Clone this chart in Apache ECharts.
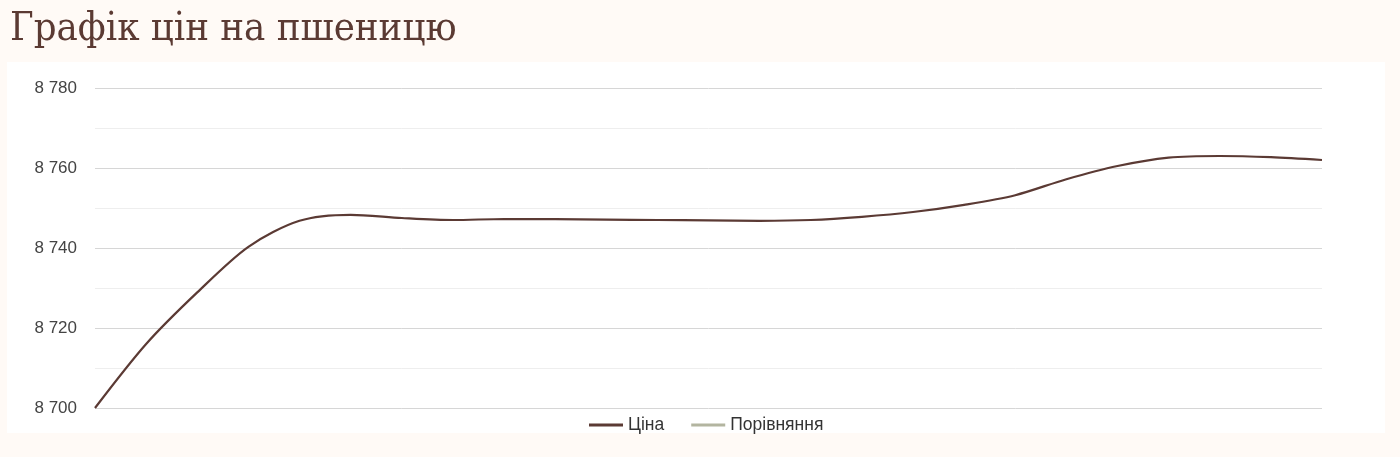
<!DOCTYPE html>
<html>
<head>
<meta charset="utf-8">
<script src="https://cdn.jsdelivr.net/npm/echarts@6/dist/echarts.min.js"></script>
<style>
html,body{margin:0;padding:0;background:#fffaf6;}
#c{width:1400px;height:457px;}
</style>
</head>
<body>
<div id="c"></div>
<script>
var titleText = 'Графік цін на пшеницю';
var categories = ['1','2','3','4','5','6','7','8','9','10','11','12','13','14','15','16','17','18','19','20','21','22','23','24','25'];
var priceValues = [8700, 8716.0, 8728.9, 8740.3, 8746.8, 8748.3, 8747.5, 8747.0, 8747.25, 8747.2, 8747.1, 8747.0, 8746.9, 8746.8, 8747.0, 8747.8, 8749.0, 8750.8, 8753.2, 8757.2, 8760.5, 8762.6, 8763.0, 8762.7, 8762.0];
var compareValues = [];
var seriesNames = ['Ціна', 'Порівняння'];
var yMin = 8700, yMax = 8780, yStep = 10, yLabelStep = 20;

var chart = echarts.init(document.getElementById('c'), null, {renderer:'canvas'});
chart.setOption({
  backgroundColor: '#fffaf6',
  animation: false,
  graphic: [{
    type: 'rect', left: 7, top: 62, silent: true, z: -10,
    shape: {width: 1378, height: 371},
    style: {fill: '#ffffff'}
  }],
  title: {
    text: titleText, left: 5, top: 5,
    textStyle: {fontFamily: '"DejaVu Serif Condensed", "DejaVu Serif", serif', fontSize: 39.7, fontWeight: 'normal', color: '#5b3a33'}
  },
  legend: {
    data: seriesNames, left: 584, top: 411,
    icon: 'rect', itemWidth: 34, itemHeight: 3, itemGap: 27,
    textStyle: {fontFamily: 'Liberation Sans', fontSize: 17.5, color: '#333'}
  },
  grid: {left: 95, right: 78, top: 88, bottom: 49, containLabel: false},
  xAxis: {
    type: 'category', data: categories, boundaryGap: false,
    axisLine: {show: false}, axisTick: {show: false}, axisLabel: {show: false}, splitLine: {show: false}
  },
  yAxis: {
    type: 'value', min: yMin, max: yMax, interval: yStep,
    axisLine: {show: false}, axisTick: {show: false},
    axisLabel: {
      margin: 18, fontFamily: 'Liberation Sans', fontSize: 17, color: '#444',
      formatter: function (v) {
        if ((v - yMin) % yLabelStep !== 0) return '';
        return String(v).replace(/\B(?=(\d{3})+(?!\d))/g, ' ');
      }
    },
    splitLine: {show: true, lineStyle: {color: ['#d6d6d6', '#eeeeee'], width: 1}}
  },
  series: [
    {name: seriesNames[0], type: 'line', data: priceValues, smooth: 0.3, showSymbol: false, symbol: 'none',
     lineStyle: {color: '#5b3a34', width: 2.2}, itemStyle: {color: '#5b3a34'}},
    {name: seriesNames[1], type: 'line', data: compareValues, smooth: true, showSymbol: false, symbol: 'none',
     lineStyle: {color: '#b3b5a0', width: 2.2}, itemStyle: {color: '#b3b5a0'}}
  ]
});
</script>
</body>
</html>
